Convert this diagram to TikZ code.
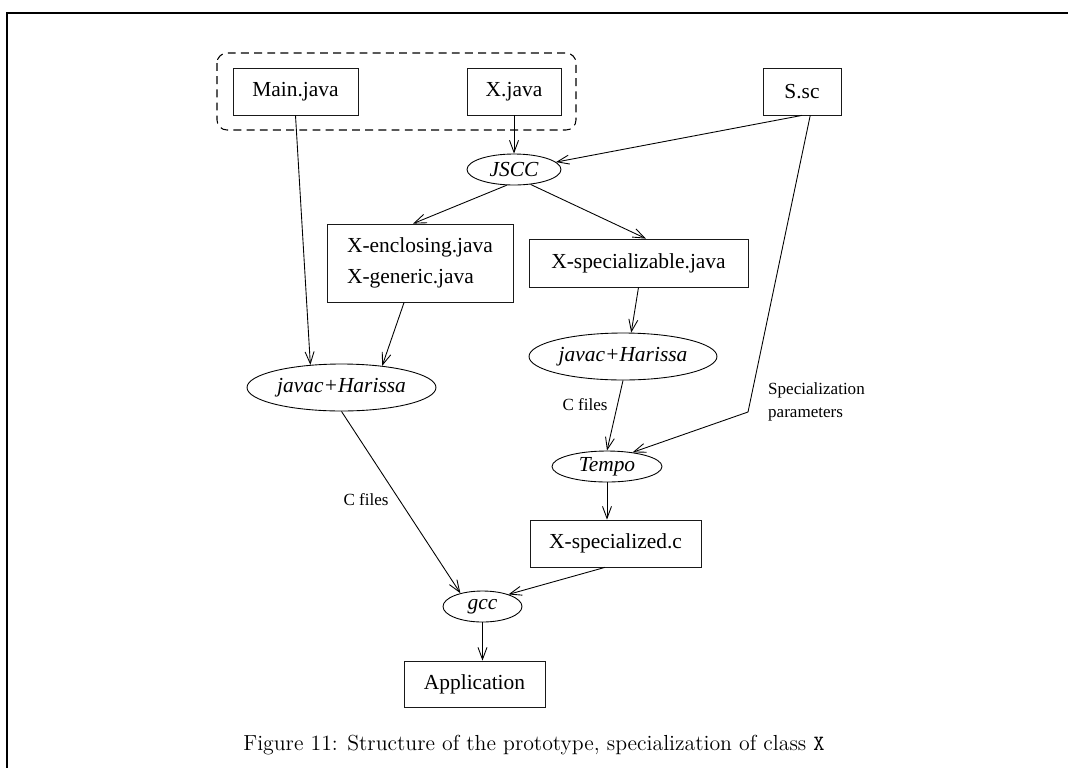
\documentclass[tikz,border=0pt]{standalone}
\usepackage{fontspec}
\usepackage{tikz}
\usetikzlibrary{shapes,shapes.geometric}
\usetikzlibrary{arrows.meta}
\newfontfamily\figfont{Liberation Serif}
\tikzset{
	filebox/.style={rectangle, draw=black!90, line width=0.45pt, inner sep=0pt, font=\figfont\fontsize{12.2}{18}\selectfont},
	toolnode/.style={ellipse, draw=black, line width=0.5pt, inner sep=0pt, font=\figfont\itshape\fontsize{12.2}{18}\selectfont},
	flow/.style={line width=0.5pt, -{Straight Barb[length=2.4mm,width=1.8mm]}},
	flowlabel/.style={font=\figfont\fontsize{9.7}{13}\selectfont}
}

\begin{document}
\begin{tikzpicture}[x=0.02cm, y=-0.02cm]
		\useasboundingbox (0,0) rectangle (1068,768);
		\draw[line width=1.1pt] (1068,13) -- (7,13) -- (7,768);
		
		\draw[line width=0.6pt, dash pattern=on 4.5pt off 3pt, rounded corners=0.2cm] (217,53) rectangle (576,130);
		
		\node[filebox, minimum width=2.5cm, minimum height=0.94cm] (main) at (295.5,91.5) {Main.java};
		\node[filebox, minimum width=1.88cm, minimum height=0.94cm] (xjava) at (514,91.5) {X.java};
		\node[filebox, minimum width=1.56cm, minimum height=0.94cm] (ssc) at (802,91.5) {S.sc};
		\node[toolnode, minimum width=1.88cm, minimum height=0.62cm] (jscc) at (514,169.5) {JSCC};
		\node[filebox, minimum width=3.72cm, minimum height=1.56cm, align=left] (xenc) at (420,263) {X-enclosing.java\\X-generic.java};
		\node[filebox, minimum width=4.38cm, minimum height=0.96cm] (xspec) at (638.5,263) {X-specializable.java};
		\node[toolnode, minimum width=3.78cm, minimum height=0.94cm] (javacl) at (341.5,387.5) {javac+Harissa};
		\node[toolnode, minimum width=3.76cm, minimum height=0.94cm] (javacr) at (623,356.5) {javac+Harissa};
		\node[toolnode, minimum width=2.2cm, minimum height=0.62cm] (tempo) at (607,466.5) {Tempo};
		\node[filebox, minimum width=3.42cm, minimum height=0.94cm] (xspecc) at (615.5,543.5) {X-specialized.c};
		\node[toolnode, minimum width=1.58cm, minimum height=0.62cm] (gcc) at (482.5,606.5) {gcc};
		\node[filebox, minimum width=2.82cm, minimum height=0.92cm] (app) at (474.5,684) {Application};
		
		\coordinate (bend) at (748,412);
		
		\draw[flow] (xjava) -- (jscc);
		\draw[flow] (ssc.south) -- (jscc.10);
		\draw[flow] (jscc.-115) -- (xenc.100);
		\draw[flow] (jscc.-42) -- (xspec.73);
		\draw[flow] (main.south) -- (javacl.144);
		\draw[flow] (xenc.-112) -- (javacl.28);
		\draw[flow] (xspec.south) -- (javacr.71);
		\draw[flow] (javacr.south) -- (tempo.north);
		\draw[flow] (ssc.-71) -- (bend) -- (tempo.29);
		\draw[flow] (tempo.south) -- (tempo.south |- xspecc.north);
		\draw[flow] (xspecc.-114) -- (gcc.25);
		\draw[flow] (javacl.south) -- (gcc.149);
		\draw[flow] (gcc.south) -- (gcc.south |- app.north);
		
		\node[flowlabel] (cfilesr) at (585,405) {C files};
		\node[flowlabel] (cfilesl) at (366,500) {C files};
		\node[flowlabel, anchor=west, align=left] (params) at (762,401.5) {Specialization\\parameters};
		
		\node[font=\fontsize{12.4}{14}\selectfont] (caption) at (534,745) {Figure 11: Structure of the prototype, specialization of class \texttt{X}};
\end{tikzpicture}
\end{document}
